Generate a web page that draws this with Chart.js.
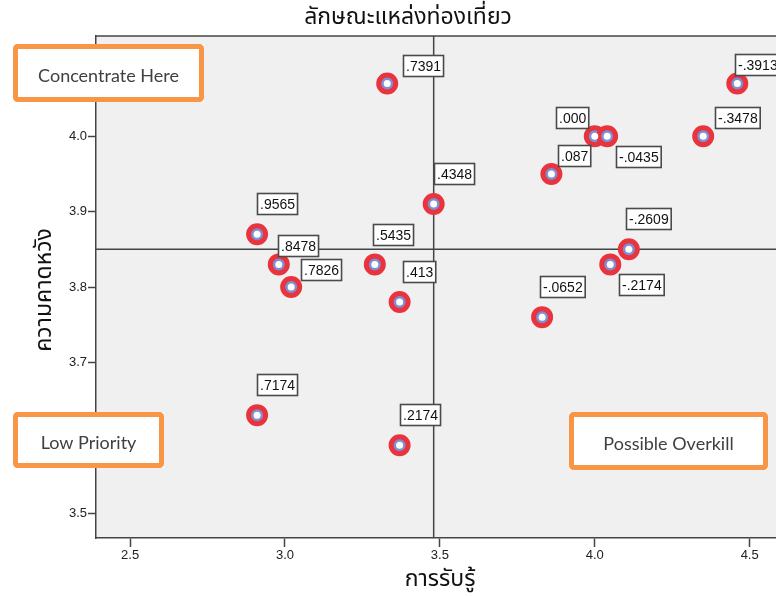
<!DOCTYPE html>
<html>
<head>
<meta charset="utf-8">
<script src="https://cdn.jsdelivr.net/npm/chart.js@4.4.1/dist/chart.umd.min.js"></script>
<style>
  html, body { margin: 0; padding: 0; background: #fff; }
  canvas { display: block; }
</style>
</head>
<body>
<canvas id="ipaChart" width="776" height="596"></canvas>
<script>
// perception (x) vs expectation (y) for each attraction attribute
const perception = [3.33, 2.91, 2.98, 3.02, 3.29, 3.37, 3.48, 3.86, 4.00, 4.04, 4.35, 4.46, 4.11, 4.05, 3.83, 2.91, 3.37];
const expectation = [4.07, 3.87, 3.83, 3.80, 3.83, 3.78, 3.91, 3.95, 4.00, 4.00, 4.00, 4.07, 3.85, 3.83, 3.76, 3.63, 3.59];
const gapLabels = [".7391", ".9565", ".8478", ".7826", ".5435", ".413", ".4348", ".087", ".000", "-.0435", "-.3478", "-.3913", "-.2609", "-.2174", "-.0652", ".7174", ".2174"];

const xTicks = [2.5, 3.0, 3.5, 4.0, 4.5];
const yTicks = [3.5, 3.6, 3.7, 3.8, 3.9, 4.0];
const perceptionMean = 3.48;
const expectationMean = 3.85;

const chartTitle = "ลักษณะแหล่งท่องเที่ยว";
const xTitle = "การรับรู้";
const yTitle = "ความคาดหวัง";
const quadrantNotes = ["Concentrate Here", "Low Priority", "Possible Overkill"];

// where each value box sits next to its point: [left edge dx, centre dy] in px
const labelNudge = [
  [16, -18], [0, -31], [-1, -19], [10, -18], [-2, -30], [3, -31], [0, -31], [7, -18], [-39, -19],
  [9, 20], [12, -19], [-2, -19], [-3, -31], [9, 20], [-2, -31], [0, -31], [0, -31]
];
// quadrant note boxes [x, y, w, h] (outer edge)
const noteBoxes = [[13, 44, 191, 58], [13, 412, 151, 56], [569, 412, 199, 58]];

const thaiFont = "Tahoma, 'Noto Sans Thai', 'Leelawadee UI', 'Noto Sans', sans-serif";
const points = perception.map((x, i) => ({ x, y: expectation[i] }));

const ipaPlugin = {
  id: "ipaDecor",
  beforeDraw(chart) {
    const { ctx, chartArea: a } = chart;
    ctx.save();
    ctx.fillStyle = "#f0f0f0";
    ctx.fillRect(a.left, a.top, a.right - a.left, a.bottom - a.top);
    ctx.strokeStyle = "#444";
    ctx.lineWidth = 1.5;
    ctx.beginPath();
    ctx.moveTo(a.left, a.top);
    ctx.lineTo(a.right, a.top);
    ctx.stroke();
    ctx.restore();
  },
  beforeDatasetsDraw(chart) {
    const { ctx, chartArea: a, scales } = chart;
    const mx = scales.x.getPixelForValue(perceptionMean);
    const my = scales.y.getPixelForValue(expectationMean);
    ctx.save();
    ctx.strokeStyle = "#444";
    ctx.lineWidth = 1.5;
    ctx.beginPath();
    ctx.moveTo(mx, a.top);
    ctx.lineTo(mx, a.bottom);
    ctx.moveTo(a.left, my);
    ctx.lineTo(a.right, my);
    ctx.stroke();
    ctx.restore();
  },
  afterDatasetsDraw(chart) {
    const { ctx } = chart;
    const meta = chart.getDatasetMeta(0);
    ctx.save();
    ctx.font = "14px 'Liberation Sans', Arial, sans-serif";
    ctx.textBaseline = "middle";
    meta.data.forEach((pt, i) => {
      const text = gapLabels[i];
      const [dx, dy] = labelNudge[i];
      const w = ctx.measureText(text).width + 5;
      const h = 21;
      const left = Math.round(pt.x + dx) + 0.5;
      const top = Math.round(pt.y + dy - h / 2) + 0.5;
      ctx.fillStyle = "#fff";
      ctx.fillRect(left, top, w, h);
      ctx.strokeStyle = "#4a4a4a";
      ctx.lineWidth = 1.6;
      ctx.strokeRect(left, top, w, h);
      ctx.fillStyle = "#111";
      ctx.fillText(text, left + 2.5, top + h / 2 + 1);
    });
    ctx.restore();
  },
  afterDraw(chart) {
    const { ctx } = chart;
    ctx.save();
    // titles
    ctx.fillStyle = "#111";
    ctx.textAlign = "center";
    ctx.textBaseline = "middle";
    ctx.font = "23px " + thaiFont;
    ctx.fillText(chartTitle, 408, 19);
    ctx.fillText(xTitle, 440, 581);
    ctx.translate(46, 290);
    ctx.rotate(-Math.PI / 2);
    ctx.fillText(yTitle, 0, 0);
    ctx.setTransform(1, 0, 0, 1, 0, 0);

    // quadrant notes
    ctx.font = "18px Lato, 'Noto Sans', sans-serif";
    noteBoxes.forEach(([x, y, w, h], i) => {
      ctx.fillStyle = "#fff";
      ctx.fillRect(x, y, w, h);
      ctx.strokeStyle = "#f79646";
      ctx.lineWidth = 5;
      ctx.beginPath();
      ctx.roundRect(x + 2.5, y + 2.5, w - 5, h - 5, 2);
      ctx.stroke();
      ctx.fillStyle = "#404040";
      ctx.fillText(quadrantNotes[i], x + w / 2, y + h / 2 + 3);
    });
    ctx.restore();
  }
};

const tickFont = { family: "'Liberation Sans', Arial, sans-serif", size: 13 };

new Chart(document.getElementById("ipaChart"), {
  type: "scatter",
  data: {
    datasets: [
      {
        data: points,
        order: 1,
        pointRadius: 8.5,
        pointHoverRadius: 8.5,
        borderWidth: 5,
        borderColor: "#e9333d",
        backgroundColor: "#7d90d6"
      },
      {
        data: points,
        order: 0,
        pointRadius: 3.5,
        pointHoverRadius: 3.5,
        borderWidth: 0,
        backgroundColor: "#ffffff"
      }
    ]
  },
  options: {
    responsive: false,
    animation: false,
    events: [],
    layout: { autoPadding: false, padding: { top: 36, left: 0, right: 0, bottom: 0 } },
    plugins: {
      legend: { display: false },
      tooltip: { enabled: false },
      title: { display: false }
    },
    scales: {
      x: {
        type: "linear",
        min: 2.39,
        max: 4.585,
        afterFit: scale => {
          scale.height = 58;
          scale.paddingLeft = 0;
          scale.paddingRight = 0;
        },
        afterBuildTicks: scale => { scale.ticks = xTicks.map(value => ({ value })); },
        border: { display: true, color: "#444", width: 1.5 },
        grid: { drawOnChartArea: false, drawTicks: true, tickLength: 9, tickColor: "#444", tickWidth: 1.5 },
        ticks: {
          font: tickFont,
          color: "#222",
          padding: 1,
          maxRotation: 0,
          callback: value => Number(value).toFixed(1)
        }
      },
      y: {
        type: "linear",
        min: 3.467,
        max: 4.133,
        afterFit: scale => {
          scale.width = 96;
          scale.paddingTop = 0;
          scale.paddingBottom = 0;
        },
        afterBuildTicks: scale => { scale.ticks = yTicks.map(value => ({ value })); },
        border: { display: true, color: "#444", width: 1.5 },
        grid: { drawOnChartArea: false, drawTicks: true, tickLength: 8, tickColor: "#444", tickWidth: 1.5 },
        ticks: {
          font: tickFont,
          color: "#222",
          padding: 1,
          callback: value => Number(value).toFixed(1)
        }
      }
    }
  },
  plugins: [ipaPlugin]
});
</script>
</body>
</html>
